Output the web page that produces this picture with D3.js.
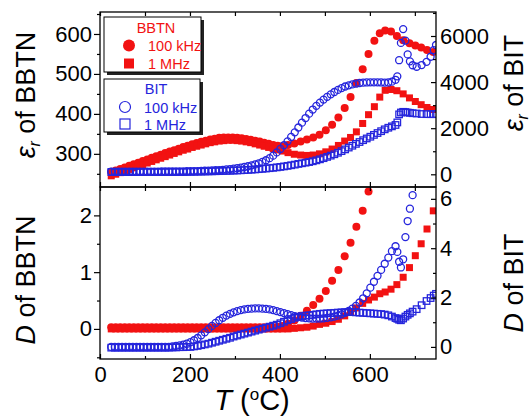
<!DOCTYPE html>
<html>
<head>
<meta charset="utf-8">
<script src="https://cdn.jsdelivr.net/npm/d3@7"></script>
<style>
  body { margin: 0; background: #fff; }
</style>
</head>
<body>
<script>
// ---- data ----
// BBTN: dense below ~410 C, sparse above
var bbtnTemp = [25,35,45,55,65,75,85,95,105,115,125,135,145,155,165,175,185,195,205,215,
  225,235,245,255,265,275,285,295,305,315,325,335,345,355,365,375,385,395,405,
  418,432,446,460,474,488,502,516,530,544,557,570,584,597,610,622,634,647,660,674,688,701,714,727,741];

var bbtnEps100k = [255,258,262,266,270,274,278,282,286,290,294,298,302,306,309,313,317,320,324,327,
  330,333,336,338,340,341,341,341,340,339,337,335,333,331,328,325,322,320,319,
  322,326,331,336,341,348,359,373,391,415,442,477,512,550,583,602,609,606,595,584,577,571,566,560,555];

var bbtnEps1M = [245,249,253,257,261,265,269,273,277,281,285,289,293,297,301,305,309,312,316,319,
  322,325,328,330,332,333,334,334,333,332,330,328,325,322,319,316,313,310,307,
  303,299,297,296,297,300,305,312,321,332,341,355,376,398,418,442,459,461,458,450,440,431,423,416,411];

var bbtnD100k = [0.03,0.03,0.03,0.03,0.03,0.03,0.03,0.03,0.03,0.03,0.03,0.03,0.03,0.03,0.03,0.03,0.03,0.03,0.03,0.03,
  0.03,0.03,0.03,0.03,0.03,0.03,0.03,0.03,0.03,0.03,0.03,0.03,0.03,0.03,0.03,0.03,0.03,0.04,0.05,
  0.09,0.15,0.23,0.32,0.42,0.53,0.67,0.85,1.04,1.28,1.52,1.80,2.08,2.42,2.8,3.2,3.6,4.0,4.5,5.0,5.5,6.0,6.5,7.0,7.5];

var bbtnD1M = [0,0,0,0,0,0,0,0,0,0,0,0,0,0,0,0,0,0,0,0,
  0,0,0,0,0,0,0,0,0,0,0,0,0,0,0,0,0,0,0,
  0.0,0.01,0.02,0.03,0.05,0.08,0.10,0.13,0.17,0.23,0.29,0.37,0.45,0.51,0.56,0.62,0.65,0.70,0.78,0.91,1.08,1.29,1.50,1.76,2.08];

// BIT: dense up to ~660 C, sparse above
var bitTemp = [25,33,41,49,57,65,73,81,89,97,105,113,121,129,137,145,153,161,169,177,
  185,193,201,209,217,225,233,241,249,257,265,273,281,289,297,305,313,321,329,337,
  345,353,361,369,377,385,393,401,409,417,425,433,441,449,457,465,473,481,489,497,
  505,513,521,529,537,545,553,561,569,577,585,593,601,609,617,625,633,641,649,657,
  661,665,669,674,679,684,689,695,704,715,726,735,742,747];

var bitEps100k = [120,120,120,120,120,120,120,120,120,120,120,120,120,120,122,122,124,124,126,128,
  130,132,135,138,142,147,153,160,168,178,185,196,210,226,244,265,290,318,350,388,
  430,478,535,610,700,810,950,1100,1260,1430,1620,1820,2030,2240,2440,2630,2810,2970,3110,3240,
  3360,3470,3570,3660,3740,3810,3860,3900,3930,3960,3975,3985,3990,3990,3990,3985,3980,3985,4020,4100,
  4250,4950,5700,6300,5800,5200,4900,4730,4665,4740,4880,5100,5390,5610];

var bitEps1M = [100,100,100,100,100,100,100,100,100,100,100,100,100,100,100,100,100,100,101,102,
  104,106,108,111,114,118,122,126,130,134,138,143,148,154,160,167,174,182,191,201,
  212,224,237,251,266,282,300,320,342,366,392,420,450,478,505,532,565,605,650,700,
  755,810,870,935,1005,1080,1160,1240,1320,1400,1480,1555,1630,1710,1790,1870,1950,2020,2080,2140,
  2250,2600,2680,2710,2700,2680,2667,2650,2638,2615,2610,2609,2609,2610];

var bitD100k = [0,0,0,0,0,0,0,0,0,0,0,0,0,0,0,0,0,0.02,0.04,0.06,
  0.09,0.13,0.19,0.27,0.36,0.47,0.59,0.72,0.85,0.97,1.08,1.18,1.27,1.34,1.40,1.45,1.49,1.52,1.54,1.55,
  1.56,1.56,1.55,1.54,1.52,1.49,1.45,1.41,1.37,1.33,1.29,1.25,1.22,1.19,1.17,1.16,1.15,1.15,1.15,1.16,
  1.18,1.20,1.23,1.27,1.32,1.38,1.46,1.55,1.66,1.80,1.97,2.17,2.40,2.64,2.88,3.12,3.37,3.62,3.88,4.08,
  3.85,3.45,3.22,3.55,4.45,5.1,5.6,6.15,6.9,7.6,8.3,8.9,9.4,9.8];

var bitD1M = [-0.03,-0.03,-0.03,-0.03,-0.03,-0.03,-0.03,-0.03,-0.03,-0.03,-0.03,-0.03,-0.03,-0.03,-0.03,-0.03,-0.03,-0.02,-0.02,-0.01,
  -0.01,0,0,0.02,0.04,0.07,0.10,0.13,0.17,0.21,0.25,0.29,0.33,0.37,0.42,0.46,0.50,0.54,0.58,0.62,
  0.66,0.70,0.74,0.78,0.82,0.86,0.90,0.96,1.02,1.08,1.13,1.18,1.22,1.25,1.27,1.28,1.30,1.32,1.34,1.35,
  1.36,1.37,1.38,1.39,1.40,1.41,1.42,1.41,1.40,1.39,1.38,1.37,1.36,1.35,1.34,1.33,1.31,1.28,1.23,1.17,
  1.14,1.10,1.08,1.15,1.23,1.30,1.36,1.43,1.53,1.69,1.86,1.98,2.08,2.15];

// ticks
var xMajor = [0, 200, 400, 600];
var xMinor = [100, 300, 500, 700];
var epsBbtnTicks = [300, 400, 500, 600], epsBbtnMinor = [250, 350, 450, 550, 650];
var epsBitTicks = [0, 2000, 4000, 6000], epsBitMinor = [1000, 3000, 5000, 7000];
var dBbtnTicks = [0, 1, 2], dBbtnMinor = [-0.5, 0.5, 1.5];
var dBitTicks = [0, 2, 4, 6], dBitMinor = [1, 3, 5];

var RED = "#f21212", BLUE = "#2525dc";
var FONT = "Arial, 'Liberation Sans', sans-serif";

var svg = d3.select("body").append("svg")
  .attr("width", 531).attr("height", 419)
  .style("font-family", FONT);

var x = d3.scaleLinear().domain([0, 747]).range([100, 436]);
var topP = {y0: 12, y1: 187, id: "clipTop"};
var botP = {y0: 187, y1: 359, id: "clipBot"};

var yEpsL = d3.scaleLinear().domain([217, 655]).range([topP.y1, topP.y0]);
var yEpsR = d3.scaleLinear().domain([-551, 7041]).range([topP.y1, topP.y0]);
var yDL = d3.scaleLinear().domain([-0.53, 2.5]).range([botP.y1, botP.y0]);
var yDR = d3.scaleLinear().domain([-0.49, 6.48]).range([botP.y1, botP.y0]);

var defs = svg.append("defs");
[topP, botP].forEach(function(p) {
  defs.append("clipPath").attr("id", p.id).append("rect")
    .attr("x", 100).attr("y", p.y0).attr("width", 336).attr("height", p.y1 - p.y0);
});

function drawMarks(p, temp, vals, y, shape, filled, color, size) {
  var data = temp.map(function(t, i) { return [t, vals[i]]; });
  var g = svg.append("g").attr("clip-path", "url(#" + p.id + ")");
  var sel = g.selectAll(null).data(data).enter();
  var m;
  if (shape === "circle") {
    m = sel.append("circle")
      .attr("cx", function(d) { return x(d[0]); })
      .attr("cy", function(d) { return y(d[1]); })
      .attr("r", size / 2);
  } else {
    m = sel.append("rect")
      .attr("x", function(d) { return x(d[0]) - size / 2; })
      .attr("y", function(d) { return y(d[1]) - size / 2; })
      .attr("width", size).attr("height", size);
  }
  if (filled) m.attr("fill", color);
  else m.attr("fill", "none").attr("stroke", color).attr("stroke-width", 1.3);
}

// top panel: permittivity
drawMarks(topP, bbtnTemp, bbtnEps100k, yEpsL, "circle", true, RED, 8);
drawMarks(topP, bbtnTemp, bbtnEps1M, yEpsL, "square", true, RED, 7);
drawMarks(topP, bitTemp, bitEps1M, yEpsR, "square", false, BLUE, 6.5);
drawMarks(topP, bitTemp, bitEps100k, yEpsR, "circle", false, BLUE, 7);

// bottom panel: loss
drawMarks(botP, bbtnTemp, bbtnD100k, yDL, "circle", true, RED, 8);
drawMarks(botP, bbtnTemp, bbtnD1M, yDL, "square", true, RED, 7);
drawMarks(botP, bitTemp, bitD1M, yDR, "square", false, BLUE, 6.5);
drawMarks(botP, bitTemp, bitD100k, yDR, "circle", false, BLUE, 7);

function styleAxis(g) {
  g.select(".domain").remove();
  g.attr("font-family", FONT).attr("font-size", 22);
  g.selectAll("line").attr("stroke", "#000").attr("stroke-width", 1.2);
  g.selectAll("text").attr("fill", "#000");
}

function panelAxes(p, yL, yR, lMaj, lMin, rMaj, rMin, xLabels) {
  // left: outward ticks
  svg.append("g").attr("transform", "translate(100,0)")
    .call(d3.axisLeft(yL).tickValues(lMaj).tickSize(6).tickPadding(2).tickFormat(d3.format("d")))
    .call(styleAxis);
  svg.append("g").attr("transform", "translate(100,0)")
    .call(d3.axisLeft(yL).tickValues(lMin).tickSize(3).tickFormat(""))
    .call(styleAxis);
  // right: inward ticks
  svg.append("g").attr("transform", "translate(436,0)")
    .call(d3.axisRight(yR).tickValues(rMaj).tickSize(-5).tickPadding(4).tickFormat(d3.format("d")))
    .call(styleAxis);
  svg.append("g").attr("transform", "translate(436,0)")
    .call(d3.axisRight(yR).tickValues(rMin).tickSize(-3).tickFormat(""))
    .call(styleAxis);
  // top and bottom edges, inward ticks
  svg.append("g").attr("transform", "translate(0," + p.y0 + ")")
    .call(d3.axisTop(x).tickValues(xMajor.concat(xMinor)).tickSize(-4).tickFormat(""))
    .call(styleAxis);
  svg.append("g").attr("transform", "translate(0," + p.y1 + ")")
    .call(d3.axisBottom(x).tickValues(xMajor).tickSize(-5).tickPadding(7)
      .tickFormat(xLabels ? d3.format("d") : ""))
    .call(styleAxis);
  svg.append("g").attr("transform", "translate(0," + p.y1 + ")")
    .call(d3.axisBottom(x).tickValues(xMinor).tickSize(-3).tickFormat(""))
    .call(styleAxis);
  svg.append("rect")
    .attr("x", 100).attr("y", p.y0).attr("width", 336).attr("height", p.y1 - p.y0)
    .attr("fill", "none").attr("stroke", "#000").attr("stroke-width", 1.3);
}

panelAxes(topP, yEpsL, yEpsR, epsBbtnTicks, epsBbtnMinor, epsBitTicks, epsBitMinor, false);
panelAxes(botP, yDL, yDR, dBbtnTicks, dBbtnMinor, dBitTicks, dBitMinor, true);

// legends
function legendBox(x0, y0, w, h) {
  svg.append("rect").attr("x", x0 + 3).attr("y", y0 + 3).attr("width", w).attr("height", h)
    .attr("fill", "#222");
  svg.append("rect").attr("x", x0).attr("y", y0).attr("width", w).attr("height", h)
    .attr("fill", "#fff").attr("stroke", "#000").attr("stroke-width", 1);
}
function legendText(tx, ty, txt, color, anchor) {
  svg.append("text").attr("x", tx).attr("y", ty).attr("fill", color)
    .attr("font-size", 14.5).attr("text-anchor", anchor || "start").text(txt);
}

legendBox(104, 17, 97, 55);
legendText(156, 33, "BBTN", RED, "middle");
svg.append("circle").attr("cx", 129).attr("cy", 45.5).attr("r", 6).attr("fill", RED);
legendText(148, 51, "100 kHz", RED);
svg.append("rect").attr("x", 124).attr("y", 58.5).attr("width", 10).attr("height", 10).attr("fill", RED);
legendText(148, 69, "1 MHz", RED);

legendBox(104, 79, 96, 53);
legendText(156, 94, "BIT", BLUE, "middle");
svg.append("circle").attr("cx", 125).attr("cy", 107).attr("r", 5.5)
  .attr("fill", "none").attr("stroke", BLUE).attr("stroke-width", 1.2);
legendText(144, 112.5, "100 kHz", BLUE);
svg.append("rect").attr("x", 120).attr("y", 119).attr("width", 10).attr("height", 10)
  .attr("fill", "none").attr("stroke", BLUE).attr("stroke-width", 1.2);
legendText(144, 130, "1 MHz", BLUE);

// axis titles
function yTitle(tx, ty, parts) {
  var t = svg.append("text")
    .attr("transform", "translate(" + tx + "," + ty + ") rotate(-90)")
    .attr("text-anchor", "middle").attr("font-size", 27).attr("fill", "#000");
  parts(t);
}
function epsTitle(name) {
  return function(t) {
    t.append("tspan").attr("font-style", "italic").text("\u03b5");
    t.append("tspan").attr("font-style", "italic").attr("font-size", 16).attr("dy", "0.3em").text("r");
    t.append("tspan").attr("dy", "-0.18em").text(" of " + name);
  };
}
function dTitle(name) {
  return function(t) {
    t.append("tspan").attr("font-style", "italic").text("D");
    t.append("tspan").text(" of " + name);
  };
}
yTitle(35, 95, epsTitle("BBTN"));
yTitle(35, 280, dTitle("BBTN"));
yTitle(523, 83, epsTitle("BIT"));
yTitle(523, 283, dTitle("BIT"));

var xt = svg.append("text").attr("x", 252).attr("y", 410)
  .attr("text-anchor", "middle").attr("font-size", 29).attr("fill", "#000");
xt.append("tspan").attr("font-style", "italic").text("T");
xt.append("tspan").text(" (");
xt.append("tspan").attr("font-size", 17).attr("dy", "-0.6em").text("o");
xt.append("tspan").attr("dy", "0.36em").text("C)");
</script>
</body>
</html>
